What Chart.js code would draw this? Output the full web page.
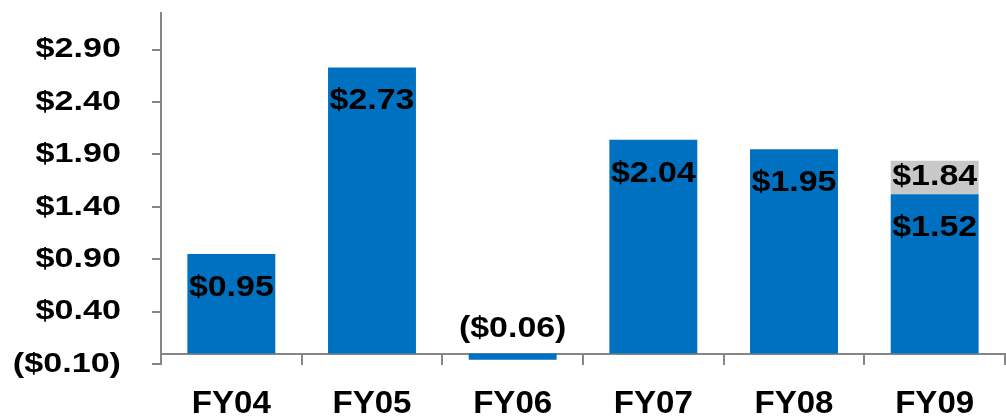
<!DOCTYPE html>
<html>
<head>
<meta charset="utf-8">
<script src="https://cdn.jsdelivr.net/npm/chart.js@4/dist/chart.umd.min.js"></script>
<style>
  html, body { margin: 0; padding: 0; background: #ffffff; }
  #wrap { position: relative; width: 1006px; height: 420px; }
</style>
</head>
<body>
<div id="wrap"><canvas id="c" width="1006" height="420"></canvas></div>
<script>
// ---- data ----
const categories = ['FY04', 'FY05', 'FY06', 'FY07', 'FY08', 'FY09'];
const epsValues = [0.95, 2.73, -0.06, 2.04, 1.95, 1.52];
const adjustedTotals = [null, null, null, null, null, 1.84];
const yTickValues = [-0.10, 0.40, 0.90, 1.40, 1.90, 2.40, 2.90];
const yTickLabels = ['($0.10)', '$0.40', '$0.90', '$1.40', '$1.90', '$2.40', '$2.90'];

// grey segment = adjusted total minus base value
const adjustmentValues = adjustedTotals.map((t, i) => (t === null ? null : t - epsValues[i]));

const BLUE = '#0070C0';
const GREY = '#C8C8C8';
const AXIS = '#868686';
const FONT = '"Liberation Sans", Arial, sans-serif';
// horizontal text stretch seen in the reference, per font size
const STRETCH = { 28: 1.22, 29: 1.17, 31: 1.066 };

function money(v) {
  const s = '$' + Math.abs(v).toFixed(2);
  return v < 0 ? '(' + s + ')' : s;
}

const canvas = document.getElementById('c');
const ctx = canvas.getContext('2d');
const origFill = ctx.fillText;
ctx.fillText = function (t, x, y, mw) {
  const m = /(\d+)px/.exec(this.font);
  const sx = (m && STRETCH[m[1]]) || 1;
  this.save();
  this.translate(x, y);
  this.scale(sx, 1);
  if (mw !== undefined && mw !== null) origFill.call(this, t, 0, 0, mw / sx);
  else origFill.call(this, t, 0, 0);
  this.restore();
};

const labelPlugin = {
  id: 'barLabels',
  afterDatasetsDraw(chart) {
    const c = chart.ctx;
    c.save();
    c.font = 'bold 29px ' + FONT;
    c.fillStyle = '#000000';
    c.textAlign = 'center';
    c.textBaseline = 'middle';
    const m0 = chart.getDatasetMeta(0);
    m0.data.forEach((el, i) => {
      const v = epsValues[i];
      if (v === null) return;
      const y = v >= 0 ? el.y + 34 : el.base - 25;
      c.fillText(money(v), el.x, y);
    });
    const m1 = chart.getDatasetMeta(1);
    m1.data.forEach((el, i) => {
      const t = adjustedTotals[i];
      if (t === null) return;
      c.fillText(money(t), el.x, (el.y + el.base) / 2);
    });
    c.restore();
  }
};

new Chart(ctx, {
  type: 'bar',
  data: {
    labels: categories,
    datasets: [
      { data: epsValues, backgroundColor: BLUE, borderWidth: 0, barPercentage: 0.625, categoryPercentage: 1 },
      { data: adjustmentValues, backgroundColor: GREY, borderWidth: 0, barPercentage: 0.625, categoryPercentage: 1 }
    ]
  },
  plugins: [labelPlugin],
  options: {
    responsive: false,
    animation: false,
    events: [],
    layout: { padding: { top: 13, right: 1, bottom: 56, left: 0 } },
    plugins: { legend: { display: false }, tooltip: { enabled: false } },
    scales: {
      x: {
        stacked: true,
        position: { y: 0 },
        grid: { display: true, drawOnChartArea: false, drawTicks: true, tickLength: 10, color: AXIS, lineWidth: 2, offset: true },
        border: { display: true, color: AXIS, width: 2 },
        ticks: { color: '#000000', font: { family: FONT, size: 31, weight: 'bold' }, padding: 22, maxRotation: 0, autoSkip: false },
        afterFit(s) { s.paddingLeft = 0; s.paddingRight = 0; }
      },
      y: {
        stacked: true,
        min: -0.10,
        max: 3.25,
        grid: { display: true, drawOnChartArea: false, drawTicks: true, tickLength: 9, color: AXIS, lineWidth: 2 },
        border: { display: true, color: AXIS, width: 2 },
        afterBuildTicks(axis) { axis.ticks = yTickValues.map(v => ({ value: v })); },
        ticks: {
          color: '#000000',
          font: { family: FONT, size: 28, weight: 'bold' },
          padding: 31,
          callback(value, index) { return yTickLabels[index]; }
        },
        afterFit(s) { s.width = 161; s.paddingTop = 0; s.paddingBottom = 0; }
      }
    }
  }
});
</script>
</body>
</html>
